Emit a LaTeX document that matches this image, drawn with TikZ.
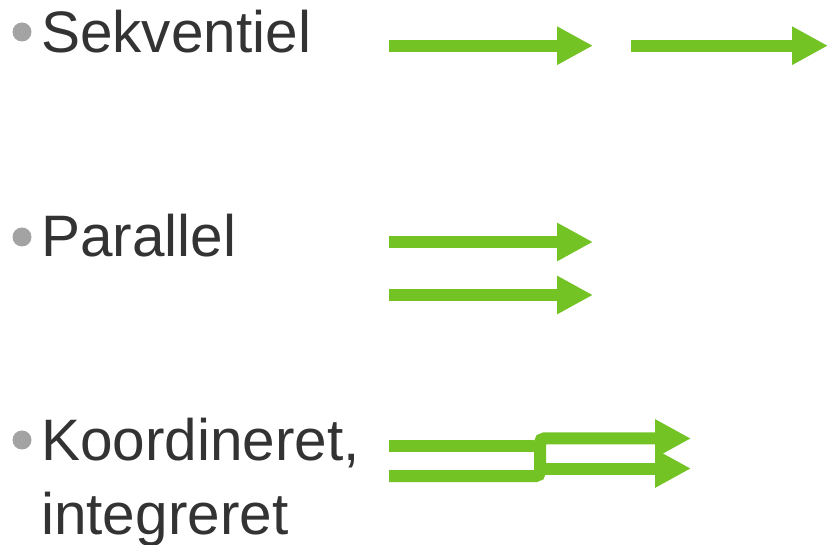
\documentclass[tikz,border=0pt]{standalone}
\usepackage{fontspec}
\setmainfont{Liberation Sans}
\usepackage{xcolor}
\usepackage{tikz}
\usetikzlibrary{arrows.meta}
\definecolor{flowgreen}{RGB}{115,195,37}
\definecolor{textgray}{RGB}{51,51,51}
\definecolor{bulletgray}{RGB}{163,163,163}
\tikzstyle{item} = [anchor=base west, inner sep=0pt, text=textgray, font=\fontsize{58.5}{74}\selectfont, align=left]
\tikzstyle{dot} = [circle, fill=bulletgray, minimum size=19pt, inner sep=0pt]
\tikzstyle{flow} = [color=flowgreen, line width=12pt, -{Triangle[length=36pt,width=36pt]}]
\tikzstyle{bar} = [color=flowgreen, line width=12pt]

\begin{document}
\begin{tikzpicture}[x=1pt, y=-1pt]
   \useasboundingbox (0,0) rectangle (828,545);
   % Sekventiel
   \node (bseq) [dot] at (22,32) {};
   \node (seq) [item] at (41,53) {Sekventiel};
   \coordinate (s1a) at (389,45.7);
   \coordinate (s1b) at (593,45.7);
   \coordinate (s2a) at (631,45.7);
   \coordinate (s2b) at (828,45.7);
   \draw [flow] (s1a) -- (s1b);
   \draw [flow] (s2a) -- (s2b);
   % Parallel
   \node (bpar) [dot] at (22,237) {};
   \node (par) [item] at (41,257) {Parallel};
   \coordinate (p1a) at (389,242);
   \coordinate (p1b) at (593,242);
   \coordinate (p2a) at (389,295);
   \coordinate (p2b) at (593,295);
   \draw [flow] (p1a) -- (p1b);
   \draw [flow] (p2a) -- (p2b);
   % Koordineret, integreret (base = last line)
   \node (bkoo) [dot] at (22,440) {};
   \node (koo) [item] at (41,534) {Koordineret,\\integreret};
   \coordinate (k1a) at (389,446);
   \coordinate (k1b) at (534,446);
   \coordinate (k2a) at (389,476);
   \coordinate (kj) at (540,438.5);
   \coordinate (k3a) at (540,468.5);
   \coordinate (k2b) at (691,438.5);
   \coordinate (k3b) at (691,468.5);
   \draw [bar] (k1a) -- (k1b);
   \draw [flow, rounded corners=4pt] (k2a) -| (kj) -- (k2b);
   \draw [flow] (k3a) -- (k3b);
\end{tikzpicture}
\end{document}
